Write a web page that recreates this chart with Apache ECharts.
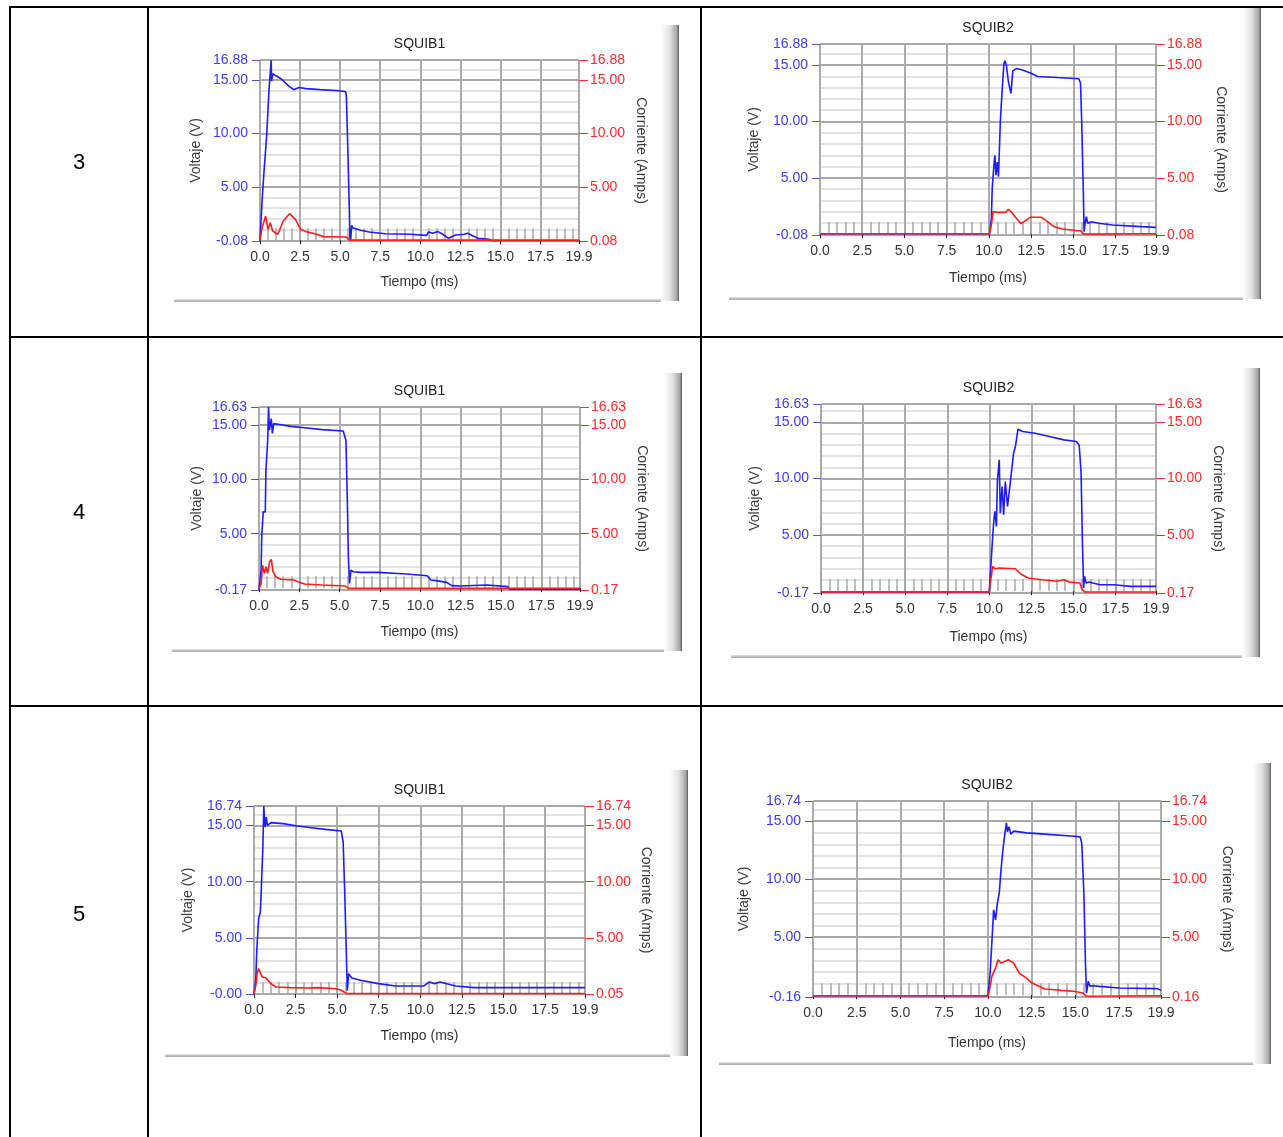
<!DOCTYPE html>
<html>
<head>
<meta charset="utf-8">
<script src="https://cdn.jsdelivr.net/npm/echarts@6/dist/echarts.min.js"></script>
<style>html,body{margin:0;padding:0;background:#fff}#chart{width:1283px;height:1137px}</style>
</head>
<body>
<div id="chart"></div>
<script>
// table rows and chart titles
var rows = ['3', '4', '5'];
var titles = ['SQUIB1', 'SQUIB2', 'SQUIB1', 'SQUIB2', 'SQUIB1', 'SQUIB2'];
// voltage axis extents and bottom label of the current axis
var vMin = [-0.08, -0.08, -0.17, -0.17, -0.004, -0.16];
var vMax = [16.88, 16.88, 16.63, 16.63, 16.74, 16.74];
var iMinLabel = ['0.08', '0.08', '0.17', '0.17', '0.05', '0.16'];
var timeMax = 19.9;

// [time ms, value]
var v3s1 = [[0,-0.08],[0.13,3.7],[0.24,6.2],[0.42,9.9],[0.57,14.3],[0.7,16.88],[0.72,14.9],[0.8,15.6],[1.0,15.4],[1.33,15.1],[1.78,14.45],[2.1,14.1],[2.43,14.3],[2.87,14.2],[3.75,14.1],[4.96,14.0],[5.35,13.9],[5.39,13.4],[5.46,9.6],[5.57,3.05],[5.61,0.2],[5.65,-0.08],[5.72,1.4],[5.79,1.15],[5.94,1.1],[6.27,0.92],[6.82,0.76],[7.81,0.6],[9.34,0.55],[10.4,0.45],[10.5,0.76],[10.77,0.64],[11.1,0.8],[11.4,0.55],[11.76,0.17],[12.2,0.48],[12.74,0.55],[12.96,0.64],[13.3,0.39],[13.6,0.17],[14.28,0.08],[14.5,-0.05],[19.9,-0.06]];
var i3s1 = [[0,-0.05],[0.13,1.17],[0.35,2.26],[0.5,1.0],[0.64,1.64],[0.79,0.86],[1.12,0.55],[1.45,1.8],[1.84,2.48],[2.21,1.95],[2.54,1.0],[2.87,0.8],[3.42,0.6],[3.97,0.33],[5.39,0.3],[5.57,0.0],[19.9,0.0]];
var v3s2 = [[0,0.03],[10.04,0.03],[10.15,1.4],[10.2,4.06],[10.3,6.1],[10.36,7.0],[10.42,5.24],[10.5,6.4],[10.57,5.1],[10.68,9.97],[10.78,12.6],[10.89,15.1],[10.95,15.4],[11.04,15.0],[11.16,13.5],[11.31,12.5],[11.42,14.5],[11.63,14.7],[11.95,14.6],[12.47,14.3],[12.9,14.0],[14.06,13.9],[15.33,13.8],[15.43,13.4],[15.5,9.97],[15.6,3.47],[15.64,0.22],[15.69,0.8],[15.77,1.55],[15.86,0.96],[16.07,1.1],[16.5,0.96],[17.34,0.81],[19.03,0.66],[19.9,0.6]];
var i3s2 = [[0,0.03],[10.04,0.03],[10.15,0.8],[10.25,2.0],[10.47,1.93],[11.0,1.93],[11.16,2.2],[11.31,2.0],[11.63,1.4],[11.9,0.93],[12.16,1.17],[12.47,1.5],[13.1,1.5],[13.4,1.2],[13.85,0.66],[14.38,0.45],[15.22,0.3],[15.43,0.3],[15.6,0.0],[19.9,0.03]];
var v4s1 = [[0,-0.17],[0.13,1.66],[0.17,4.72],[0.26,7.0],[0.39,7.0],[0.43,10.8],[0.54,13.6],[0.59,16.63],[0.65,14.5],[0.76,15.56],[0.83,14.2],[0.91,15.1],[1.2,15.04],[1.96,14.85],[2.83,14.73],[3.91,14.55],[5.22,14.43],[5.39,13.57],[5.48,7.78],[5.54,2.88],[5.61,0.44],[5.7,1.66],[5.83,1.51],[6.3,1.45],[7.39,1.45],[9.13,1.3],[10.43,1.14],[10.65,0.75],[10.98,0.69],[11.63,0.53],[11.96,0.23],[12.5,0.2],[14.13,0.29],[15.43,0.14],[15.54,-0.11],[17.28,-0.11],[19.9,-0.12]];
var i4s1 = [[0,-0.1],[0.13,0.44],[0.22,2.12],[0.33,1.36],[0.43,1.97],[0.54,1.36],[0.65,2.4],[0.76,2.64],[0.87,1.51],[1.04,1.05],[1.35,0.81],[2.17,0.75],[2.5,0.53],[2.83,0.38],[3.91,0.29],[5.33,0.2],[5.54,-0.02],[19.9,-0.02]];
var v4s2 = [[0,-0.08],[9.99,-0.08],[10.1,2.49],[10.2,4.86],[10.27,6.34],[10.33,7.08],[10.42,5.75],[10.48,9.89],[10.59,11.67],[10.65,6.93],[10.76,9.3],[10.85,6.79],[10.95,9.74],[11.08,7.52],[11.23,9.45],[11.44,12.26],[11.55,12.85],[11.7,14.39],[11.98,14.18],[12.72,14.03],[13.57,13.74],[14.43,13.44],[15.17,13.3],[15.34,12.94],[15.45,10.49],[15.53,4.27],[15.6,0.27],[15.66,1.31],[15.75,0.72],[15.92,0.8],[16.56,0.57],[17.41,0.57],[18.37,0.42],[19.9,0.42]];
var i4s2 = [[0,-0.08],[9.99,-0.08],[10.1,1.16],[10.2,2.2],[10.33,1.99],[10.59,2.05],[11.55,1.99],[11.87,1.52],[12.3,1.16],[12.61,1.1],[13.15,1.01],[14.0,0.87],[14.43,1.01],[14.75,0.8],[15.38,0.72],[15.49,0.21],[15.66,-0.08],[19.9,-0.08]];
var v5s1 = [[0,-0.004],[0.11,1.37],[0.17,4.04],[0.28,6.71],[0.38,7.3],[0.44,9.38],[0.53,12.94],[0.59,16.74],[0.66,14.87],[0.74,15.76],[0.8,15.02],[1.02,15.26],[1.76,15.17],[2.6,14.96],[3.45,14.81],[4.3,14.66],[5.25,14.51],[5.36,13.53],[5.46,8.79],[5.57,2.55],[5.61,0.3],[5.69,1.81],[5.88,1.42],[6.41,1.22],[7.47,0.92],[8.53,0.71],[10.22,0.71],[10.54,1.07],[10.86,0.92],[11.18,1.07],[11.71,0.86],[12.13,0.71],[13.19,0.56],[19.9,0.56]];
var i5s1 = [[0,0.0],[0.11,0.77],[0.19,1.81],[0.28,2.26],[0.38,2.2],[0.49,1.51],[0.7,1.45],[1.02,0.92],[1.33,0.62],[2.18,0.56],[3.24,0.53],[3.87,0.56],[4.93,0.47],[5.25,0.33],[5.57,0.03],[19.9,0.03]];
var v5s2 = [[0,-0.05],[10.0,-0.05],[10.02,0.18],[10.13,1.9],[10.23,4.62],[10.33,7.35],[10.44,6.49],[10.54,7.92],[10.65,8.78],[10.75,10.79],[10.85,12.37],[10.96,13.8],[11.06,14.86],[11.12,14.08],[11.21,14.51],[11.31,13.88],[11.48,14.14],[12.21,13.99],[13.25,13.88],[14.91,13.7],[15.28,13.65],[15.37,13.07],[15.49,8.78],[15.58,2.76],[15.64,0.18],[15.74,1.19],[15.84,0.76],[16.05,0.81],[16.37,0.76],[17.51,0.61],[19.69,0.56],[19.9,0.41]];
var i5s2 = [[0,-0.05],[10.02,-0.05],[10.13,0.76],[10.23,1.62],[10.44,2.33],[10.58,3.05],[10.75,2.76],[10.96,2.91],[11.17,3.05],[11.48,2.76],[11.79,1.9],[12.21,1.47],[12.52,1.04],[12.93,0.76],[13.25,0.53],[13.87,0.47],[14.18,0.41],[14.91,0.33],[15.43,0.18],[15.64,-0.1],[19.9,-0.05]];

var voltage = [v3s1, v3s2, v4s1, v4s2, v5s1, v5s2];
var current = [i3s1, i3s2, i4s1, i4s2, i5s1, i5s2];
var minorLevels = [1, 2, 3, 4, 6, 7, 8, 9, 11, 12, 13, 14, 16];

// page layout: plot box [left, top, width, height], raised panel [x1, y1, x2, y2], name gaps
var layout = [
    {grid: [260, 60, 319, 181], panel: [174, 25, 679, 301], vGap: 57, iGap: 55, tGap: 34},
    {grid: [820, 44, 336, 191], panel: [729, 8, 1261, 299], vGap: 59, iGap: 58, tGap: 36},
    {grid: [259, 407, 321, 183], panel: [172, 373, 682, 651], vGap: 55, iGap: 55, tGap: 35},
    {grid: [821, 404, 335, 189], panel: [731, 368, 1260, 657], vGap: 59, iGap: 55, tGap: 37},
    {grid: [254, 806, 331, 188], panel: [165, 770, 688, 1056], vGap: 59, iGap: 54, tGap: 35},
    {grid: [813, 801, 348, 196], panel: [719, 763, 1271, 1064], vGap: 62, iGap: 59, tGap: 39}
];
var font = '"Liberation Sans", Arial, sans-serif';

var option = {animation: false, backgroundColor: '#fff', grid: [], xAxis: [], yAxis: [], series: [], graphic: []};

// table
function line(x1, y1, x2, y2) {
    option.graphic.push({type: 'line', shape: {x1: x1, y1: y1, x2: x2, y2: y2}, style: {stroke: '#000', lineWidth: 2}});
}
line(10, 7, 1283, 7); line(10, 6, 10, 1137); line(148, 6, 148, 1137); line(701, 6, 701, 1137);
line(10, 337, 1283, 337); line(10, 706, 1283, 706);
[163, 513, 915].forEach(function (y, r) {
    option.graphic.push({type: 'text', x: 79, y: y, style: {text: rows[r], font: '22px ' + font, fill: '#000', align: 'center', verticalAlign: 'middle'}});
});

layout.forEach(function (L, k) {
    var g = L.grid, p = L.panel, lo = vMin[k], hi = vMax[k];
    var ticks = [lo, 5, 10, 15, hi];
    // raised panel edges
    option.graphic.push({type: 'rect', shape: {x: p[2] - 18, y: p[1], width: 18, height: p[3] - p[1]},
        style: {fill: {type: 'linear', x: 0, y: 0, x2: 1, y2: 0, colorStops: [{offset: 0, color: '#ffffff'}, {offset: 0.5, color: '#e0e0e0'}, {offset: 0.88, color: '#a4a4a4'}, {offset: 1, color: '#5a5a5a'}]}}});
    option.graphic.push({type: 'rect', shape: {x: p[0], y: p[3] - 2, width: p[2] - p[0] - 18, height: 3},
        style: {fill: {type: 'linear', x: 0, y: 0, x2: 0, y2: 1, colorStops: [{offset: 0, color: '#e4e4e4'}, {offset: 1, color: '#a4a4a4'}]}}});
    option.graphic.push({type: 'text', x: g[0] + g[2] / 2, y: g[1] - 16, style: {text: titles[k], font: '14px ' + font, fill: '#222', align: 'center', verticalAlign: 'middle'}});

    option.grid.push({left: g[0], top: g[1], width: g[2], height: g[3], containLabel: false});
    // minor ticks inside the plot
    option.xAxis.push({gridIndex: k, type: 'value', position: 'bottom', min: 0, max: timeMax, interval: 0.5,
        axisLine: {show: false}, axisTick: {inside: true, length: 12, lineStyle: {color: '#a8a8a8', width: 1.5}},
        axisLabel: {show: false}, splitLine: {show: false}});
    option.xAxis.push({gridIndex: k, type: 'value', position: 'bottom', min: 0, max: timeMax, interval: 2.5,
        name: 'Tiempo (ms)', nameLocation: 'middle', nameGap: L.tGap,
        nameTextStyle: {color: '#333', fontSize: 14, fontFamily: font},
        axisLine: {show: false}, axisTick: {length: 4, lineStyle: {color: '#222'}},
        axisLabel: {margin: 9, color: '#333', fontSize: 14, fontFamily: font, formatter: function (v) { return v.toFixed(1); }},
        splitLine: {lineStyle: {color: '#ababab', width: 2}}});

    option.yAxis.push({gridIndex: k, type: 'value', min: lo, max: hi, position: 'left',
        axisLine: {show: false}, axisTick: {show: false, customValues: minorLevels}, axisLabel: {show: false},
        splitLine: {lineStyle: {color: '#d9d9d9', width: 1.5}}});
    option.yAxis.push({gridIndex: k, type: 'value', min: lo, max: hi, position: 'left',
        name: 'Voltaje (V)', nameLocation: 'middle', nameGap: L.vGap, nameRotate: 90,
        nameTextStyle: {color: '#3a3a3a', fontSize: 14, fontFamily: font},
        axisLine: {show: false}, axisTick: {length: 8, customValues: ticks, lineStyle: {color: '#5555cc'}},
        axisLabel: {customValues: ticks, margin: 12, color: '#3b3bff', fontSize: 14, fontFamily: font, formatter: function (v) { return v.toFixed(2); }},
        splitLine: {lineStyle: {color: '#a9a9a9', width: 2}}});
    option.yAxis.push({gridIndex: k, type: 'value', min: lo, max: hi, position: 'right',
        name: 'Corriente (Amps)', nameLocation: 'middle', nameGap: L.iGap, nameRotate: -90,
        nameTextStyle: {color: '#3a3a3a', fontSize: 14, fontFamily: font},
        axisLine: {show: false}, axisTick: {length: 9, customValues: ticks, lineStyle: {color: '#ff2a2a'}},
        axisLabel: {customValues: ticks, margin: 11, color: '#ff2a2a', fontSize: 14, fontFamily: font,
            formatter: function (v) { return v === lo ? iMinLabel[k] : v.toFixed(2); }},
        splitLine: {show: false}});

    option.series.push({type: 'line', xAxisIndex: 2 * k + 1, yAxisIndex: 3 * k + 1, data: voltage[k],
        symbol: 'none', lineStyle: {color: '#1c1cff', width: 1.6}, itemStyle: {color: '#1c1cff'}});
    option.series.push({type: 'line', xAxisIndex: 2 * k + 1, yAxisIndex: 3 * k + 2, data: current[k],
        symbol: 'none', lineStyle: {color: '#ff1c1c', width: 1.6}, itemStyle: {color: '#ff1c1c'}});
});

var chart = echarts.init(document.getElementById('chart'));
chart.setOption(option);
</script>
</body>
</html>
